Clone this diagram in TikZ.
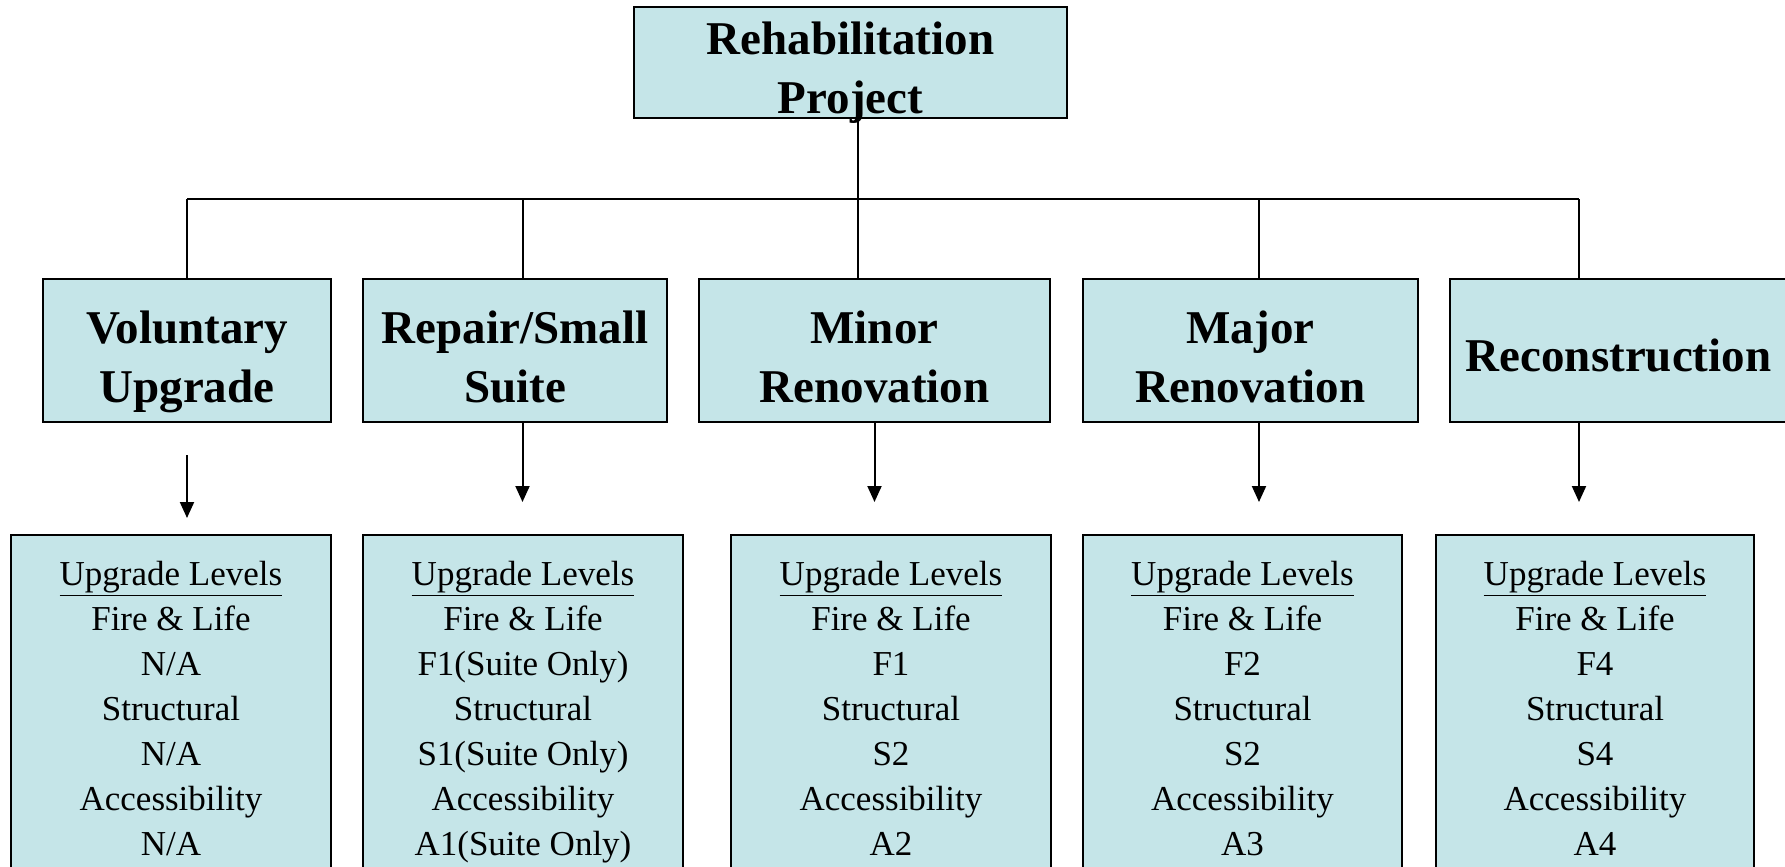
\documentclass[tikz,border=0pt]{standalone}
\usepackage{fontspec}
\setmainfont{Liberation Serif}
\usetikzlibrary{arrows.meta}
\definecolor{boxfill}{RGB}{197,229,232}
\begin{document}
\begin{tikzpicture}[x=0.5pt,y=-0.5pt,
  box/.style={draw=black, line width=1pt, fill=boxfill, inner sep=0pt},
  head/.style={box, minimum height=71.5pt},
  headtext/.style={inner sep=0pt, align=center, anchor=north,
                   font=\fontsize{23.5}{29.5}\selectfont\bfseries},
  lvl/.style={box, minimum width=160pt, minimum height=172.5pt},
  lvltext/.style={inner sep=0pt, align=center, anchor=north,
                  font=\fontsize{17.5}{22.5}\selectfont},
  link/.style={line width=1pt},
  arr/.style={line width=1pt, -{Triangle[width=7pt,length=8pt]}}]
\useasboundingbox (0,0) rectangle (1785,867);
\clip (0,0) rectangle (1785,867);

% root
\node[box, minimum width=216.5pt, minimum height=55.5pt] (top) at (850.5,62.5) {};
\node[headtext] (toptxt) at (850.5,21) {Rehabilitation\\Project};

% project categories
\node[head, minimum width=144pt]   (vol) at (187,350.5)    {};
\node[head, minimum width=152pt]   (rep) at (515,350.5)    {};
\node[head, minimum width=175.5pt] (min) at (874.5,350.5)  {};
\node[head, minimum width=167.5pt] (maj) at (1250.5,350.5) {};
\node[head, minimum width=168.5pt] (rec) at (1618.5,350.5) {};
\node[headtext] (voltxt) at (vol.center |- 0,310.5) {Voluntary\\Upgrade};
\node[headtext] (reptxt) at (rep.center |- 0,310.5) {Repair/Small\\Suite};
\node[headtext] (mintxt) at (min.center |- 0,310.5) {Minor\\Renovation};
\node[headtext] (majtxt) at (maj.center |- 0,310.5) {Major\\Renovation};
\node[headtext, anchor=center] (rectxt) at (1618.5,355) {Reconstruction};

% upgrade levels
\node[lvl] (lv1) at (171,707.5) {};
\node[lvl] (lv2) at (523,707.5) {};
\node[lvl] (lv3) at (891,707.5) {};
\node[lvl, minimum width=159.5pt] (lv4) at (1242.5,707.5) {};
\node[lvl, minimum width=159pt]   (lv5) at (1595,707.5) {};
\node[lvltext] (lv1txt) at (171,560.5)
  {\underline{Upgrade Levels}\\Fire \& Life\\N/A\\Structural\\N/A\\Accessibility\\N/A};
\node[lvltext] (lv2txt) at (523,560.5)
  {\underline{Upgrade Levels}\\Fire \& Life\\F1(Suite Only)\\Structural\\S1(Suite Only)\\Accessibility\\A1(Suite Only)};
\node[lvltext] (lv3txt) at (891,560.5)
  {\underline{Upgrade Levels}\\Fire \& Life\\F1\\Structural\\S2\\Accessibility\\A2};
\node[lvltext] (lv4txt) at (1242.5,560.5)
  {\underline{Upgrade Levels}\\Fire \& Life\\F2\\Structural\\S2\\Accessibility\\A3};
\node[lvltext] (lv5txt) at (1595,560.5)
  {\underline{Upgrade Levels}\\Fire \& Life\\F4\\Structural\\S4\\Accessibility\\A4};

% bus junctions
\coordinate (j1) at (187,199);
\coordinate (j2) at (522.5,199);
\coordinate (j3) at (858,199);
\coordinate (j4) at (1259,199);
\coordinate (j5) at (1579,199);

% arrow ends
\coordinate (s1) at (187,455);
\coordinate (t1) at (187,518);
\coordinate (t2) at (522.5,502);
\coordinate (t3) at (874.5,502);
\coordinate (t4) at (1259,502);
\coordinate (t5) at (1579,502);

% tree connectors
\draw[link] (j1) -- (j5);
\draw[link] (top.south -| j3) -- (j3 |- min.north);
\draw[link] (j1) -- (j1 |- vol.north);
\draw[link] (j2) -- (j2 |- rep.north);
\draw[link] (j4) -- (j4 |- maj.north);
\draw[link] (j5) -- (j5 |- rec.north);

% arrows to upgrade levels
\draw[arr] (s1) -- (t1);
\draw[arr] (t2 |- rep.south) -- (t2);
\draw[arr] (min.south) -- (t3);
\draw[arr] (t4 |- maj.south) -- (t4);
\draw[arr] (t5 |- rec.south) -- (t5);
\end{tikzpicture}
\end{document}
